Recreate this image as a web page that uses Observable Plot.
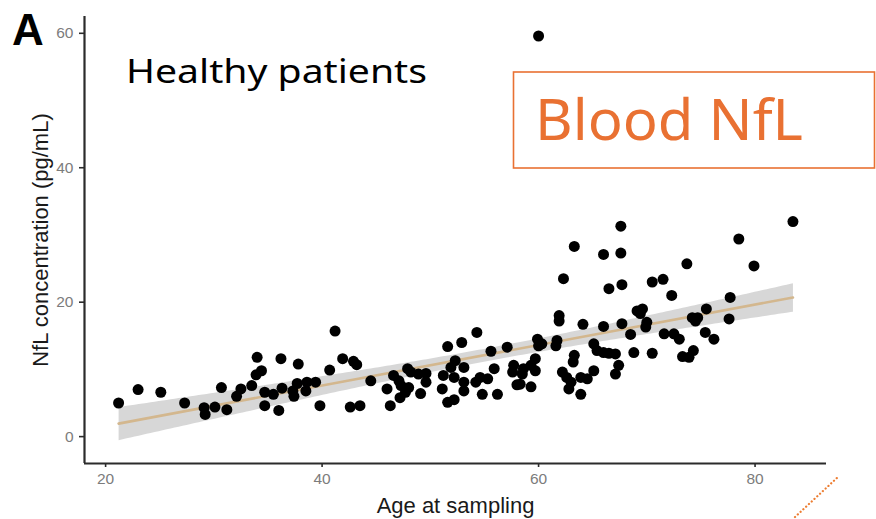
<!DOCTYPE html>
<html>
<head>
<meta charset="utf-8">
<script src="https://cdn.jsdelivr.net/npm/d3@7"></script>
<script src="https://cdn.jsdelivr.net/npm/@observablehq/plot@0.6"></script>
<style>
  html, body { margin: 0; padding: 0; background: #fff; }
  #wrap { position: relative; width: 876px; height: 519px; overflow: hidden; }
  #notes { position: absolute; left: 0; top: 0; pointer-events: none; }
</style>
</head>
<body>
<div id="wrap">
  <div id="chart"></div>
  <svg id="notes" width="876" height="519" xmlns="http://www.w3.org/2000/svg">
    <text x="12" y="45" font-family="Liberation Sans, Arial, sans-serif" font-weight="bold" font-size="44" fill="#000">A</text>
    <text x="126" y="83" font-family="Noto Sans, sans-serif" font-size="33" fill="#000" textLength="301" lengthAdjust="spacingAndGlyphs">Healthy patients</text>
    <rect x="513.5" y="72" width="361" height="96" fill="none" stroke="#E97132" stroke-width="1.6"/>
    <text x="535" y="140" font-family="Noto Sans, sans-serif" font-size="57" fill="#E97132" textLength="268" lengthAdjust="spacingAndGlyphs">Blood NfL</text>
    <line x1="795" y1="517" x2="838" y2="477" stroke="#ED7D31" stroke-width="2.2" stroke-linecap="round" stroke-dasharray="0.1 3.7"/>
  </svg>
</div>
<script>
// Age at sampling (years) and blood NfL concentration (pg/mL) for healthy patients
const ages = [
  21.2, 23.0, 25.1, 27.3, 29.1, 29.2, 30.1, 31.2, 30.7, 32.1,
  32.5, 33.5, 33.9, 34.4, 34.0, 36.2, 34.7, 35.5, 34.7, 36.0,
  36.3, 37.3, 37.4, 37.8, 37.7, 41.2, 41.9, 42.9, 43.2, 40.7,
  38.6, 39.4, 38.5, 39.8, 42.6, 43.5, 44.5, 46.6, 46.0, 47.1,
  47.3, 48.0, 47.9, 48.2, 48.9, 49.6, 49.6, 49.1, 47.2, 46.3,
  47.7, 51.6, 52.9, 52.3, 51.9, 53.1, 51.2, 52.2, 51.1, 53.1,
  53.1, 51.6, 52.2, 54.3, 55.6, 57.1, 59.9, 60.0, 60.3, 61.7,
  61.6, 61.9, 61.9, 62.3, 63.3, 66.0, 67.6, 66.5, 67.7, 64.1,
  66.0, 67.7, 68.5, 69.1, 68.8, 65.1, 65.4, 66.0, 66.5, 67.1,
  67.4, 67.1, 65.1, 64.5, 63.9, 63.3, 63.2, 62.2, 62.6, 63.0,
  62.8, 63.9, 59.7, 59.7, 59.3, 58.6, 57.7, 57.6, 58.5, 55.9,
  54.6, 55.3, 54.2, 58.0, 58.3, 59.3, 56.2, 54.8, 83.5, 78.5,
  79.9, 73.7, 70.5, 71.5, 72.3, 77.7, 75.5, 69.6, 69.4, 77.6,
  74.2, 74.7, 74.5, 70.0, 69.9, 71.6, 72.5, 73.0, 75.4, 76.2,
  70.5, 73.3, 74.3, 73.9, 60.0, 67.6
];
const nfl = [
  5.0, 7.0, 6.6, 5.0, 4.3, 3.3, 4.4, 4.0, 7.3, 6.0,
  7.1, 7.6, 9.2, 9.8, 11.8, 11.6, 6.6, 6.3, 4.6, 3.9,
  7.2, 6.8, 6.0, 10.8, 7.9, 15.7, 11.6, 11.2, 10.7, 9.9,
  8.1, 8.1, 6.8, 4.6, 4.4, 4.6, 8.3, 9.1, 7.1, 8.3,
  7.6, 7.3, 10.1, 9.6, 9.3, 9.4, 8.1, 6.4, 5.8, 4.6,
  6.6, 13.4, 14.0, 11.3, 10.3, 10.3, 9.1, 8.8, 7.1, 8.1,
  6.8, 5.1, 5.5, 15.5, 12.7, 13.3, 14.5, 13.5, 13.8, 14.3,
  13.5, 18.0, 17.2, 23.5, 28.3, 27.1, 27.3, 22.0, 22.6, 16.7,
  16.4, 16.8, 15.2, 18.7, 12.5, 13.8, 12.8, 12.5, 12.4, 12.3,
  10.6, 9.3, 9.8, 8.6, 8.8, 12.1, 11.1, 9.6, 8.8, 8.1,
  7.1, 6.3, 11.6, 9.8, 10.6, 10.1, 10.6, 9.6, 9.3, 10.1,
  8.8, 8.6, 8.1, 7.7, 7.8, 7.4, 6.3, 6.3, 32.0, 29.4,
  25.4, 25.7, 23.0, 23.4, 21.0, 20.7, 19.0, 19.0, 18.3, 17.5,
  17.7, 17.7, 17.2, 17.0, 16.3, 15.3, 15.3, 14.5, 15.5, 14.5,
  12.4, 11.9, 12.8, 11.8, 59.6, 31.3
];

// Axis settings
const xDomain = [18.05, 86.6];
const yDomain = [-4.0, 62.5];
const xTicks = [20, 40, 60, 80];
const yTicks = [0, 20, 40, 60];
const xTitle = "Age at sampling";
const yTitle = "NfL concentration (pg/mL)";

const samples = ages.map((a, i) => ({age: a, nfl: nfl[i]}));

const chart = Plot.plot({
  width: 876,
  height: 519,
  marginLeft: 84,
  marginRight: 50,
  marginTop: 16,
  marginBottom: 56,
  style: {fontFamily: "Liberation Sans, Arial, sans-serif", background: "#fff", overflow: "visible"},
  x: {domain: xDomain, label: null},
  y: {domain: yDomain, label: null},
  marks: [
    // least-squares fit with 95% confidence band
    Plot.linearRegressionY(samples, {
      x: "age", y: "nfl",
      stroke: "#d3b78e", strokeWidth: 2.6,
      fill: "#9a9a9a", fillOpacity: 0.4
    }),
    Plot.dot(samples, {x: "age", y: "nfl", r: 5.5, fill: "#000", stroke: "none"}),
    // axis lines
    Plot.ruleX([xDomain[0]], {stroke: "#2b2b2b", strokeWidth: 2.2}),
    Plot.ruleY([yDomain[0]], {stroke: "#2b2b2b", strokeWidth: 2.2}),
    Plot.axisX({
      ticks: xTicks, tickSize: 4, tickPadding: 5, fontSize: 15.5,
      stroke: "#2b2b2b", strokeWidth: 1.6, fill: "#7c7c7c", label: null
    }),
    Plot.axisY({
      ticks: yTicks, tickSize: 5, tickPadding: 6, fontSize: 15.5,
      stroke: "#2b2b2b", strokeWidth: 1.6, fill: "#7c7c7c", label: null
    }),
    Plot.text([xTitle], {
      frameAnchor: "bottom", dy: 42, lineAnchor: "middle",
      fontSize: 22, fill: "#1a1a1a"
    }),
    Plot.text([yTitle], {
      frameAnchor: "left", dx: -44, rotate: -90, textAnchor: "middle", lineAnchor: "middle",
      fontSize: 22, fill: "#1a1a1a"
    })
  ]
});

document.getElementById("chart").appendChild(chart);
</script>
</body>
</html>
